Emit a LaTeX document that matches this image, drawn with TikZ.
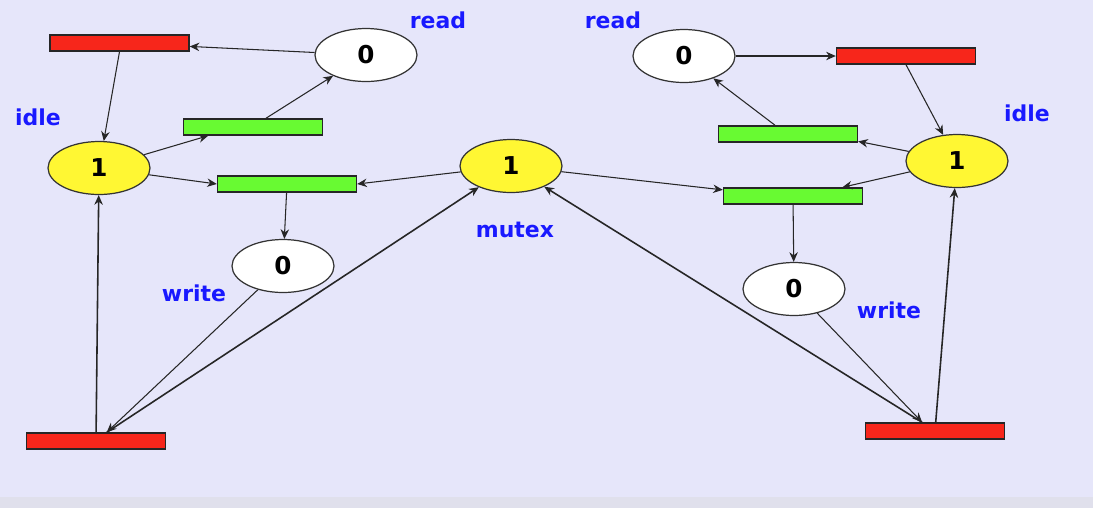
\documentclass[tikz,border=0pt]{standalone}
\usepackage{fontspec}
\setmainfont{DejaVu Sans}
\usetikzlibrary{shapes.geometric,arrows.meta}
\definecolor{bgcol}{RGB}{230,230,250}
\definecolor{bgstrip}{RGB}{224,224,236}
\definecolor{barred}{RGB}{247,38,27}
\definecolor{bargreen}{RGB}{104,250,50}
\definecolor{tokyellow}{RGB}{255,247,51}
\definecolor{lblblue}{RGB}{25,25,255}
\begin{document}
\begin{tikzpicture}[x=0.02cm,y=-0.02cm,
  place/.style={ellipse,draw=black!80,line width=0.7pt,minimum width=2.04cm,minimum height=1.06cm,inner sep=0pt,
    font=\fontsize{14}{16}\selectfont\bfseries},
  busy/.style={place,fill=white},
  free/.style={place,fill=tokyellow},
  trans/.style={rectangle,draw=black!85,line width=0.8pt,minimum width=2.78cm,minimum height=0.32cm,inner sep=0pt},
  redbar/.style={trans,fill=barred},
  greenbar/.style={trans,fill=bargreen},
  lbl/.style={text=lblblue,font=\fontsize{12.5}{14}\selectfont\bfseries},
  arc/.style={-{Stealth[length=5.5pt,width=4.8pt]},line width=0.6pt,black!85},
  longarc/.style={arc,line width=0.9pt}]
\fill[bgcol] (0,0) rectangle (1093,508);
\fill[bgstrip] (0,497) rectangle (1093,508);
\useasboundingbox (0,0) rectangle (1093,508);

\node[redbar] (redTL) at (119.5,43) {};
\node[busy] (readL) at (366,55) {0};
\node[free] (idleL) at (99,168) {1};
\node[greenbar] (greenLa) at (253,127) {};
\node[greenbar] (greenLb) at (287,184) {};
\node[free] (mutex) at (511,166) {1};
\node[busy] (writeL) at (283,266) {0};
\node[redbar] (redBL) at (96,441) {};

\node[busy] (readR) at (684,56) {0};
\node[redbar] (redTR) at (906,56) {};
\node[free] (idleR) at (957,161) {1};
\node[greenbar] (greenRa) at (788,134) {};
\node[greenbar] (greenRb) at (793,196) {};
\node[busy] (writeR) at (794,289) {0};
\node[redbar] (redBR) at (935,431) {};

\node[lbl] (lreadL) at (438,20) {read};
\node[lbl] (lidleL) at (38,117) {idle};
\node[lbl] (lmutex) at (515,230) {mutex};
\node[lbl] (lwriteL) at (194,293) {write};
\node[lbl] (lreadR) at (613,20) {read};
\node[lbl] (lidleR) at (1027,113) {idle};
\node[lbl] (lwriteR) at (889,310) {write};

\draw[arc] (readL) -- (redTL);
\draw[arc] (redTL.south) -- (idleL);
\draw[arc] (idleL) -- (greenLa.191);
\draw[arc] (greenLa.34) -- (readL);
\draw[arc] (idleL) -- (greenLb.west);
\draw[arc] (mutex) -- (greenLb.east);
\draw[arc] (greenLb) -- (writeL);
\draw[arc] (writeL) -- (redBL.39);
\draw[longarc] (redBL.39) -- (mutex);
\draw[longarc] (redBL) -- (idleL);

\draw[arc] (readR) -- (redTR.west);
\draw[arc] (redTR.south) -- (idleR);
\draw[arc] (idleR) -- (greenRa.-6);
\draw[arc] (greenRa.146) -- (readR);
\draw[arc] (idleR) -- (greenRb.10);
\draw[arc] (mutex) -- (greenRb.175);
\draw[arc] (greenRb) -- (writeR);
\draw[arc] (writeR) -- (redBR.146);
\draw[longarc] (redBR.146) -- (mutex);
\draw[longarc] (redBR) -- (idleR);
\end{tikzpicture}
\end{document}
